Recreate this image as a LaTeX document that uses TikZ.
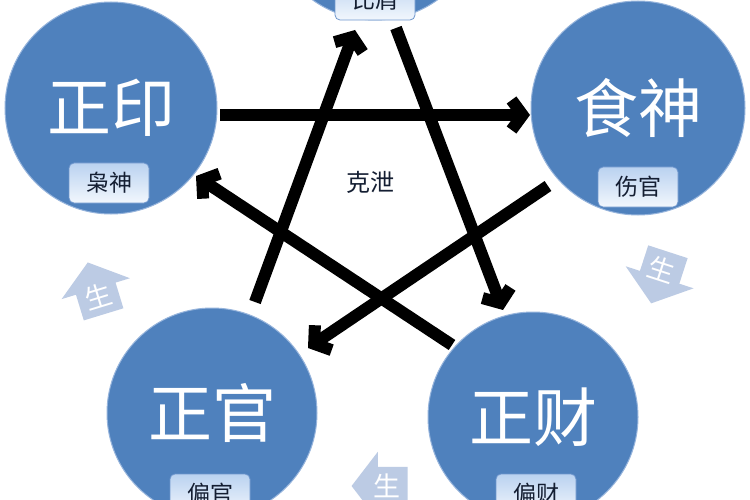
\documentclass[tikz,border=0pt]{standalone}
\usepackage{fontspec}
\newfontfamily\cjk{Noto Sans CJK SC}
\usetikzlibrary{arrows.meta,shapes.arrows}
\definecolor{ballblue}{RGB}{79,129,189}
\definecolor{balledge}{RGB}{150,180,220}
\definecolor{palearrow}{RGB}{188,203,228}
\definecolor{labeltop}{RGB}{186,210,240}
\definecolor{labelbot}{RGB}{242,247,253}
\definecolor{labeledge}{RGB}{110,150,205}
\definecolor{labeltext}{RGB}{20,30,50}
\begin{document}
\begin{tikzpicture}[x=1pt,y=-1pt,
  ball/.style={circle,fill=ballblue,draw=balledge,line width=1pt,minimum size=#1,inner sep=0pt,
    text=white,font=\cjk\fontsize{64}{64}\selectfont},
  tag/.style={rounded corners=5pt,draw=labeledge,line width=0.8pt,top color=labeltop,bottom color=labelbot,
    minimum width=80pt,minimum height=40pt,inner sep=0pt,font=\cjk\fontsize{23}{23}\selectfont,text=labeltext},
  kearrow/.style={line width=12pt,-{Straight Barb[length=11pt,width=30pt]}},
  sheng/.style={single arrow,fill=palearrow,text=white,font=\cjk\fontsize{27}{27}\selectfont,
    inner sep=7pt,single arrow head extend=15pt,single arrow tip angle=105,minimum width=60pt}
]
\useasboundingbox (0,0) rectangle (750,500);
\clip (0,0) rectangle (750,500);
\fill[white] (0,0) rectangle (750,500);

% circles
\node[ball=212pt] (yin) at (111,108) {正印};
\node[ball=214pt] (shi) at (638,108) {食神};
\node[ball=214pt] (bi) at (375,-87) {};
\node[ball=210pt] (guan) at (212,413) {正官};
\node[ball=210pt] (cai) at (533,417) {正财};

% tags
\node[tag] (bit) at (375,0) {比肩};
\node[tag] (yint) at (109,183) {枭神};
\node[tag] (shit) at (638,187) {伤官};
\node[tag] (guant) at (210,494) {偏官};
\node[tag] (cait) at (536,494) {偏财};

% pale sheng arrows
\node[sheng,shape border rotate=90,rotate=17] (s1) at (98,296) {生};
\node[sheng,shape border rotate=270,rotate=-18] (s2) at (662,270) {生};
\node[sheng,shape border rotate=180] (s3) at (387,486) {生};

% ke arrows
\coordinate (a1s) at (220,115); \coordinate (a1e) at (530,115);
\coordinate (a2s) at (255,302); \coordinate (a2e) at (355,30);
\coordinate (a3s) at (396,28);  \coordinate (a3e) at (503,310);
\coordinate (a4s) at (548,186); \coordinate (a4e) at (308,348);
\coordinate (a5s) at (452,345); \coordinate (a5e) at (196,176);
\draw[kearrow] (a1s) -- (a1e);
\draw[kearrow] (a2s) -- (a2e);
\draw[kearrow] (a3s) -- (a3e);
\draw[kearrow] (a4s) -- (a4e);
\draw[kearrow] (a5s) -- (a5e);

\node[font=\cjk\fontsize{24}{24}\selectfont,text=labeltext] (ke) at (370,182) {克泄};
\end{tikzpicture}
\end{document}
